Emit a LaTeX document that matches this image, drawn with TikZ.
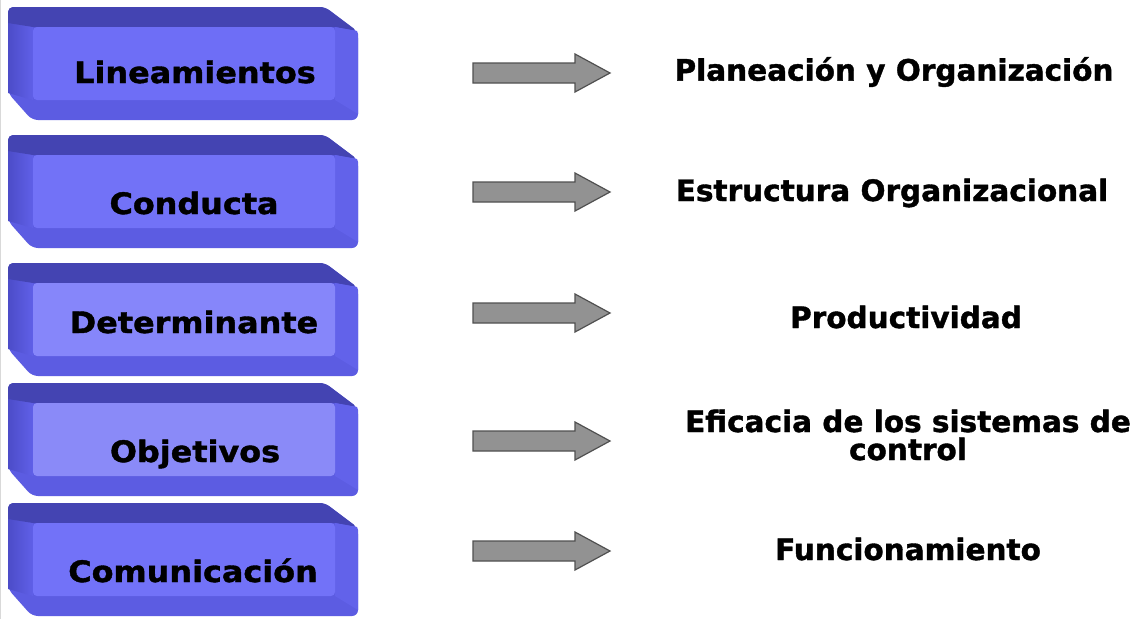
\documentclass[tikz,border=0pt]{standalone}
\usepackage{fontspec}
\setmainfont{DejaVu Sans}[BoldFeatures={FakeBold=1.3}]
\newfontfamily\boxfont{DejaVu Sans}[FakeStretch=1.08,BoldFeatures={FakeBold=1.3}]
\begin{document}
\begin{tikzpicture}[x=1pt,y=-1pt,
  boxlabel/.style={font=\boxfont\bfseries\fontsize{29.5}{32}\selectfont,inner sep=0pt,anchor=base},
  outlabel/.style={font=\bfseries\fontsize{29.5}{28}\selectfont,inner sep=0pt,align=center},
  blockarrow/.style={fill=arrowgray,draw=arrowedge,line width=1.2pt,line join=miter}]
\definecolor{topband}{RGB}{68,68,178}
\definecolor{sideband}{RGB}{92,92,226}
\definecolor{rightband}{RGB}{98,98,234}
\definecolor{leftdark}{RGB}{76,76,200}
\definecolor{leftlight}{RGB}{96,96,232}
\definecolor{arrowgray}{RGB}{146,146,146}
\definecolor{arrowedge}{RGB}{80,80,80}
\definecolor{faceA}{RGB}{110,110,246}
\definecolor{faceB}{RGB}{114,114,247}
\definecolor{faceC}{RGB}{134,134,250}
\definecolor{faceD}{RGB}{138,138,248}
\definecolor{faceE}{RGB}{114,114,248}
\useasboundingbox (0,0) rectangle (1137,619);
\fill[white] (0,0) rectangle (1137,619);
\draw[black!15,line width=1pt] (0.5,0) -- (0.5,619);
\newcommand{\bevbox}[2]{%
  \fill[sideband,rounded corners=6pt] (8,#1) -- (325,#1) -- (358,#1+25) -- (358,#1+113) -- (32,#1+113) -- (8,#1+86) -- cycle;
  \shade[left color=leftdark,right color=leftlight] (8,#1+12) -- (33,#1+20) -- (33,#1+93) -- (8,#1+86) -- cycle;
  \fill[topband,rounded corners=5pt] (8,#1+16) -- (8,#1) -- (325,#1) -- (357,#1+24) [sharp corners]-- (335,#1+20) -- (33,#1+20) -- cycle;
  \fill[rightband] (335,#1+20) -- (357,#1+24) -- (358,#1+27) -- (358,#1+107) -- (335,#1+93) -- cycle;
  \fill[#2,rounded corners=4pt] (33,#1+20) rectangle (335,#1+93);
}
\newcommand{\blockarr}[1]{%
  \draw[blockarrow] (473,#1-10) -- (575,#1-10) -- (575,#1-19) -- (610,#1) -- (575,#1+19) -- (575,#1+10) -- (473,#1+10) -- cycle;
}
\bevbox{7}{faceA}
\bevbox{135}{faceB}
\bevbox{263}{faceC}
\bevbox{383}{faceD}
\bevbox{503}{faceE}
\node[boxlabel] (b1) at (195,83) {Lineamientos};
\node[boxlabel] (b2) at (194,214) {Conducta};
\node[boxlabel] (b3) at (194,333) {Determinante};
\node[boxlabel] (b4) at (195,462) {Objetivos};
\node[boxlabel] (b5) at (193,582) {Comunicación};
\blockarr{73}
\blockarr{192}
\blockarr{313}
\blockarr{441}
\blockarr{551}
\node[outlabel] (t1) at (894,72) {Planeación y Organización};
\node[outlabel] (t2) at (892,193) {Estructura Organizacional};
\node[outlabel] (t3) at (906,317) {Productividad};
\node[outlabel] (t4) at (908,435) {Eficacia de los sistemas de\\control};
\node[outlabel] (t5) at (908,549) {Funcionamiento};
\end{tikzpicture}
\end{document}
